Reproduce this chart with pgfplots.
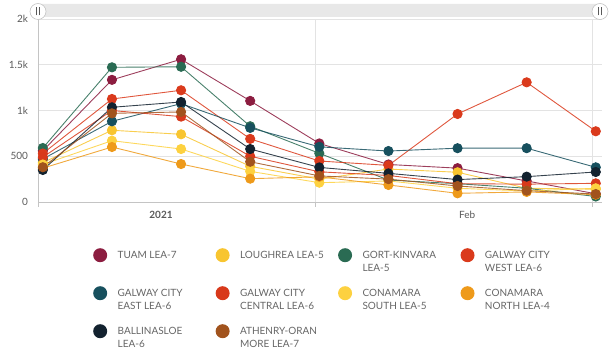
\documentclass[border=0pt]{standalone}
\usepackage{fontspec}
\setmainfont{Lato}
\usepackage{pgfplots}
\pgfplotsset{compat=1.18}
\definecolor{tuam}{HTML}{8C1D40}
\definecolor{loughrea}{HTML}{F8C530}
\definecolor{gort}{HTML}{2A6B53}
\definecolor{gcwest}{HTML}{DA3A1C}
\definecolor{gceast}{HTML}{17505E}
\definecolor{gccentral}{HTML}{D8391B}
\definecolor{consouth}{HTML}{FDD140}
\definecolor{connorth}{HTML}{EE9A1A}
\definecolor{ballin}{HTML}{13222F}
\definecolor{athenry}{HTML}{A1531D}
\definecolor{gridgrey}{HTML}{E3E3E3}
\definecolor{axisgrey}{HTML}{C4C4C4}
\definecolor{textgrey}{HTML}{5A5A5A}
\definecolor{legendgrey}{HTML}{666666}
\definecolor{sliderbg}{HTML}{E8E8E8}
\newcommand{\lb}[1]{\parbox[t]{98pt}{\raggedright #1}}
\begin{document}
\begin{tikzpicture}[x=1pt,y=1pt]
\path[use as bounding box] (-38,-151) rectangle (576,202);
\begin{axis}[
  at={(0,0)}, anchor=south west, scale only axis,
  width=564pt, height=183pt,
  xmin=-0.07, xmax=8.09, ymin=0, ymax=2000,
  axis x line=bottom, axis y line=left,
  axis line style={-, draw=axisgrey, line width=0.8pt},
  ytick={0,500,1000,1500,2000},
  yticklabels={0,500,1k,1.5k,2k},
  ymajorgrids, major grid style={draw=gridgrey, line width=0.8pt},
  xtick={-0.07,3.94,7.95}, xticklabels={}, xmajorgrids,
  extra x ticks={1.71,6.14},
  extra x tick labels={\textbf{2021},Feb},
  extra x tick style={grid=none, major tick length=0pt,
     xticklabel style={yshift=-6pt}},
  tick style={draw=axisgrey, line width=0.8pt},
  ytick style={draw=none},
  xtick align=outside, major tick length=5pt,
  tick label style={font=\fontsize{10}{12}\selectfont, text=textgrey},
  yticklabel style={xshift=-4pt},
  /pgf/number format/assume math mode=true,
  every axis plot/.append style={line width=0.9pt, mark=*, mark size=4.6pt,
     draw opacity=0.85, mark options={draw opacity=1, fill opacity=1}},
  legend columns=4,
  legend style={at={(axis description cs:0.0975,-0.2514)}, anchor=north west,
     draw=none, fill=none, inner sep=0pt, column sep=0pt, row sep=24pt,
     font=\fontsize{10}{12.5}\selectfont, text=legendgrey,
     cells={anchor=base west},
     nodes={inner xsep=0pt, inner ysep=0pt}},
  legend image code/.code={\fill[draw=none, fill opacity=1] (0pt,3.5pt) circle (7pt);
     \path (17pt,0pt);},
  clip=false,
]
\addplot[color=tuam] coordinates {(0,560)(1,1335)(2,1560)(3,1105)(4,640)(5,410)(6,370)(7,230)(8,90)};
\addlegendentry{\lb{TUAM LEA-7}}
\addplot[color=loughrea] coordinates {(0,430)(1,784)(2,740)(3,390)(4,250)(5,360)(6,325)(7,150)(8,140)};
\addlegendentry{\lb{LOUGHREA LEA-5}}
\addplot[color=gort] coordinates {(0,590)(1,1472)(2,1478)(3,828)(4,532)(5,240)(6,200)(7,150)(8,60)};
\addlegendentry{\lb{GORT-KINVARA\\LEA-5}}
\addplot[color=gcwest] coordinates {(0,530)(1,1126)(2,1221)(3,690)(4,448)(5,400)(6,962)(7,1308)(8,773)};
\addlegendentry{\lb{GALWAY CITY\\WEST LEA-6}}
\addplot[color=gceast] coordinates {(0,470)(1,882)(2,1075)(3,810)(4,603)(5,557)(6,588)(7,588)(8,379)};
\addlegendentry{\lb{GALWAY CITY\\EAST LEA-6}}
\addplot[color=gccentral] coordinates {(0,490)(1,1000)(2,933)(3,500)(4,330)(5,290)(6,200)(7,195)(8,204)};
\addlegendentry{\lb{GALWAY CITY\\CENTRAL LEA-6}}
\addplot[color=consouth] coordinates {(0,410)(1,670)(2,579)(3,335)(4,211)(5,230)(6,150)(7,120)(8,150)};
\addlegendentry{\lb{CONAMARA\\SOUTH LEA-5}}
\addplot[color=connorth] coordinates {(0,370)(1,601)(2,415)(3,255)(4,275)(5,186)(6,95)(7,110)(8,80)};
\addlegendentry{\lb{CONAMARA\\NORTH LEA-4}}
\addplot[color=ballin] coordinates {(0,350)(1,1035)(2,1093)(3,579)(4,378)(5,313)(6,245)(7,277)(8,328)};
\addlegendentry{\lb{BALLINASLOE\\LEA-6}}
\addplot[color=athenry] coordinates {(0,380)(1,969)(2,984)(3,440)(4,285)(5,250)(6,175)(7,124)(8,87)};
\addlegendentry{\lb{ATHENRY-ORAN\\MORE LEA-7}}
\end{axis}
% range slider above the plot
\fill[sliderbg, rounded corners=2pt] (0,185) rectangle (562,198);
\foreach \hx in {0,562} {
  \filldraw[fill=white, draw=axisgrey, line width=0.6pt] (\hx,190.5) circle (8);
  \draw[textgrey, line width=0.5pt] (\hx-1.3,186.5) -- (\hx-1.3,194.5) (\hx+1.3,186.5) -- (\hx+1.3,194.5);
}
\end{tikzpicture}
\end{document}
